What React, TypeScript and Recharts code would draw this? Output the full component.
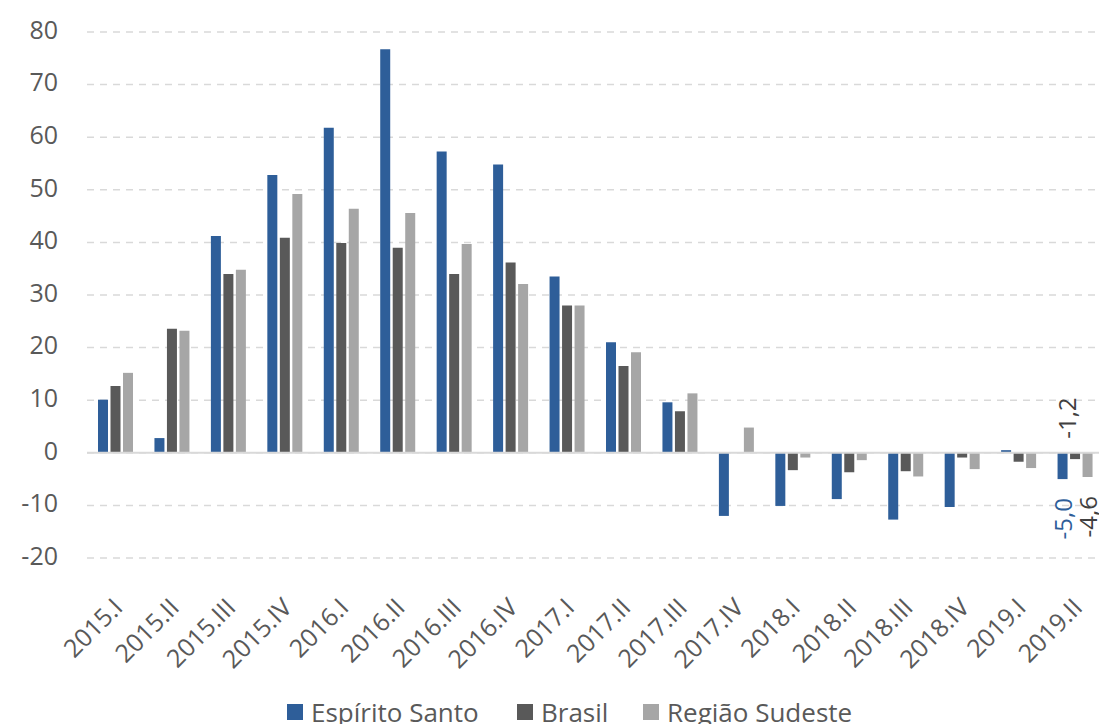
import React from 'react';
import { BarChart, Bar, XAxis, YAxis, CartesianGrid, ReferenceLine, LabelList, Legend } from 'recharts';

const categories = ['2015.I', '2015.II', '2015.III', '2015.IV', '2016.I', '2016.II', '2016.III', '2016.IV', '2017.I', '2017.II', '2017.III', '2017.IV', '2018.I', '2018.II', '2018.III', '2018.IV', '2019.I', '2019.II'];
const espiritoSanto = [10.1, 2.8, 41.2, 52.8, 61.8, 76.7, 57.3, 54.8, 33.5, 21.0, 9.6, -12.0, -10.1, -8.8, -12.7, -10.3, 0.5, -5.0];
const brasil = [12.7, 23.6, 34.0, 40.9, 39.9, 39.0, 34.0, 36.2, 28.0, 16.5, 7.9, 0.1, -3.3, -3.7, -3.5, -0.9, -1.7, -1.2];
const regiaoSudeste = [15.2, 23.2, 34.8, 49.2, 46.4, 45.6, 39.7, 32.1, 28.0, 19.1, 11.3, 4.8, -0.9, -1.4, -4.5, -3.1, -2.9, -4.6];
const yTicks = [-20, -10, 0, 10, 20, 30, 40, 50, 60, 70, 80];

const seriesNames = ['Espírito Santo', 'Brasil', 'Região Sudeste'];
const colors = ['#2e5e99', '#595959', '#a6a6a6'];

const data = categories.map((c, i) => ({
  cat: c,
  es: espiritoSanto[i],
  br: brasil[i],
  rs: regiaoSudeste[i],
}));

const FONT = '"Open Sans", "Noto Sans", sans-serif';
const TEXT = '#595959';

const fmt = (v: number) => v.toFixed(1).replace('.', ',');

const makeLabel = (color: string, mode: 'below' | 'above') => (props: any) => {
  const { x, y, width, height, index, value } = props;
  if (index !== categories.length - 1) return null;
  const top = Math.min(y, y + height);
  const bottom = Math.max(y, y + height);
  const cx = x + width / 2;
  let tx: number, ty: number, anchor: string;
  if (mode === 'below') {
    tx = cx;
    ty = bottom + 19;
    anchor = 'end';
  } else {
    tx = cx - 9;
    ty = top - 14;
    anchor = 'start';
  }
  return (
    <text
      x={tx}
      y={ty}
      transform={`rotate(-90 ${tx} ${ty})`}
      textAnchor={anchor}
      dominantBaseline="central"
      fill={color}
      fontSize={24}
      fontFamily={FONT}
    >
      {fmt(Number(value))}
    </text>
  );
};

const XTick = (props: any) => {
  const { x, y, payload } = props;
  return (
    <g transform={`translate(${x + 2},${y + 36})`}>
      <text
        textAnchor="end"
        transform="rotate(-45)"
        dominantBaseline="central"
        fill={TEXT}
        fontSize={25}
        fontFamily={FONT}
      >
        {payload.value}
      </text>
    </g>
  );
};

const legendX = [287, 517, 643];

const LegendContent = () => (
  <svg width={1110} height={30} style={{ display: 'block', overflow: 'visible' }}>
    {seriesNames.map((n, i) => (
      <g key={n}>
        <rect x={legendX[i]} y={10} width={16} height={16} fill={colors[i]} />
        <text x={legendX[i] + 24} y={28} fill={TEXT} fontSize={26} fontFamily={FONT}>
          {n}
        </text>
      </g>
    ))}
  </svg>
);

export default function App() {
  return (
    <div style={{ position: 'absolute', left: 0, top: 0, width: 1099, height: 724, overflow: 'hidden', background: '#fff' }}>
      <BarChart
        width={1110}
        height={724}
        data={data}
        margin={{ top: 32, right: 7, left: 0, bottom: 0 }}
        barSize={10}
        barGap={2.5}
      >
        <CartesianGrid vertical={false} stroke="#d9d9d9" strokeDasharray="7 6" strokeWidth={1.5} />
        <XAxis dataKey="cat" axisLine={false} tickLine={false} height={136} interval={0} tick={<XTick />} />
        <YAxis
          width={87}
          domain={[-20, 80]}
          ticks={yTicks}
          interval={0}
          axisLine={false}
          tickLine={false}
          tickMargin={23}
          tick={{ fill: TEXT, fontSize: 25, fontFamily: FONT, dy: -2 }}
        />
        <ReferenceLine y={0} stroke="#d9d9d9" strokeWidth={2} />
        <Bar dataKey="es" name={seriesNames[0]} fill={colors[0]} isAnimationActive={false}>
          <LabelList dataKey="es" content={makeLabel(colors[0], 'below')} />
        </Bar>
        <Bar dataKey="br" name={seriesNames[1]} fill={colors[1]} isAnimationActive={false}>
          <LabelList dataKey="br" content={makeLabel('#404040', 'above')} />
        </Bar>
        <Bar dataKey="rs" name={seriesNames[2]} fill={colors[2]} isAnimationActive={false}>
          <LabelList dataKey="rs" content={makeLabel('#404040', 'below')} />
        </Bar>
        <Legend verticalAlign="bottom" height={30} content={<LegendContent />} />
      </BarChart>
    </div>
  );
}
